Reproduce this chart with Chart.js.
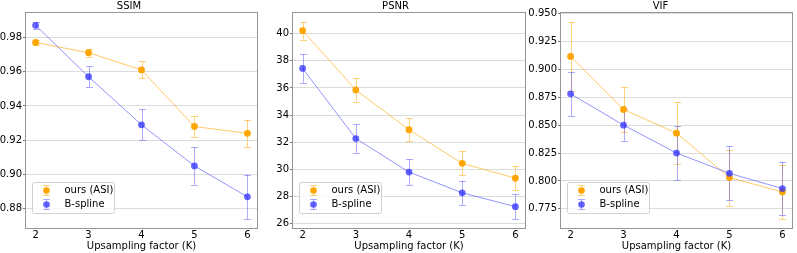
<!DOCTYPE html>
<html><head><meta charset="utf-8">
<script src="https://cdn.jsdelivr.net/npm/chart.js@4/dist/chart.umd.min.js"></script>
<style>
html,body{margin:0;padding:0;background:#fff;}
#wrap{position:relative;width:797px;height:253px;overflow:hidden;background:#fff;}
canvas{position:absolute;top:0;}
</style></head><body>
<div id="wrap">
<canvas id="c1" width="263" height="253" style="left:0px;width:263px;height:253px"></canvas>
<canvas id="c2" width="267" height="253" style="left:263px;width:267px;height:253px"></canvas>
<canvas id="c3" width="272" height="253" style="left:525px;width:272px;height:253px"></canvas>
</div>
<script>
// ---- data ----
const categories = [2, 3, 4, 5, 6];
const seriesLabels = ['ours (ASI)', 'B-spline'];
const xAxisTitle = 'Upsampling factor (K)';
const panelTitles = ['SSIM', 'PSNR', 'VIF'];

const ssimOurs = [0.977, 0.971, 0.961, 0.928, 0.924];
const ssimOursErr = [0.0012, 0.0022, 0.005, 0.006, 0.008];
const ssimBspline = [0.987, 0.957, 0.929, 0.905, 0.887];
const ssimBsplineErr = [0.002, 0.006, 0.009, 0.011, 0.013];

const psnrOurs = [40.22, 35.85, 32.92, 30.44, 29.35];
const psnrOursErr = [0.65, 0.85, 0.85, 0.89, 0.88];
const psnrBspline = [37.44, 32.27, 29.8, 28.27, 27.25];
const psnrBsplineErr = [1.06, 1.06, 0.96, 0.9, 0.92];

const vifOurs = [0.9115, 0.864, 0.8428, 0.803, 0.7902];
const vifOursErr = [0.031, 0.020, 0.028, 0.025, 0.0244];
const vifBspline = [0.878, 0.850, 0.825, 0.8068, 0.7932];
const vifBsplineErr = [0.020, 0.0141, 0.0243, 0.0242, 0.024];

const xTicks = [2, 3, 4, 5, 6];
const ssimTicks = [0.88, 0.90, 0.92, 0.94, 0.96, 0.98];
const psnrTicks = [26, 28, 30, 32, 34, 36, 38, 40];
const vifTicks = [0.775, 0.800, 0.825, 0.850, 0.875, 0.900, 0.925, 0.950];

// ---- styling ----
const FONT = 'DejaVu Sans';
const C = {
  oursLine: 'rgba(255,165,0,0.6)', oursPt: 'rgba(255,165,0,1)', oursErr: 'rgba(255,165,0,0.5)',
  bsLine: 'rgba(60,60,255,0.55)', bsPt: 'rgba(40,40,255,0.72)', bsErr: 'rgba(60,60,255,0.42)'
};

function limits(a, ae, b, be) {
  let lo = Infinity, hi = -Infinity;
  [[a, ae], [b, be]].forEach(([v, e]) => v.forEach((y, i) => {
    lo = Math.min(lo, y - e[i]); hi = Math.max(hi, y + e[i]);
  }));
  const m = (hi - lo) * 0.05;
  return [lo - m, hi + m];
}

const errorBarPlugin = {
  id: 'errbars',
  beforeDatasetsDraw(chart) {
    const ctx = chart.ctx, xs = chart.scales.x, ys = chart.scales.y, a = chart.chartArea;
    ctx.save();
    ctx.beginPath(); ctx.rect(a.left, a.top, a.right - a.left, a.bottom - a.top); ctx.clip();
    chart.data.datasets.forEach(ds => {
      ctx.strokeStyle = ds.errColor; ctx.lineWidth = 1;
      ds.data.forEach((p, i) => {
        const x = Math.round(xs.getPixelForValue(p.x)) + 0.5;
        const y1 = ys.getPixelForValue(p.y - ds.errors[i]);
        const y2 = ys.getPixelForValue(p.y + ds.errors[i]);
        ctx.beginPath();
        ctx.moveTo(x, y1); ctx.lineTo(x, y2);
        const c1 = Math.round(y1) + 0.5, c2 = Math.round(y2) + 0.5;
        ctx.moveTo(x - 3.5, c1); ctx.lineTo(x + 3.5, c1);
        ctx.moveTo(x - 3.5, c2); ctx.lineTo(x + 3.5, c2);
        ctx.stroke();
      });
    });
    ctx.restore();
  },
  afterDraw(chart) {
    const ctx = chart.ctx, a = chart.chartArea;
    ctx.save();
    // frame
    ctx.strokeStyle = '#959595'; ctx.lineWidth = 1;
    ctx.strokeRect(Math.round(a.left) + 0.5, Math.round(a.top) + 0.5,
      Math.round(a.right) - Math.round(a.left) - 1, Math.round(a.bottom) - Math.round(a.top) - 1);
    // legend
    const lx = Math.round(a.left) + 7.5, ly = 182.5, lw = 82, lh = 31;
    ctx.fillStyle = 'rgba(255,255,255,0.8)';
    ctx.strokeStyle = '#d0d0d0';
    ctx.beginPath();
    ctx.roundRect(lx, ly, lw, lh, 2);
    ctx.fill(); ctx.stroke();
    const rows = [190.5, 204.5];
    chart.data.datasets.slice().sort((p, q) => p.legendIndex - q.legendIndex).forEach((ds, k) => {
      const cx = lx + 14, cy = rows[k];
      ctx.strokeStyle = ds.errColor; ctx.lineWidth = 1;
      ctx.beginPath();
      ctx.moveTo(cx, cy - 5); ctx.lineTo(cx, cy + 5);
      ctx.moveTo(cx - 3.5, cy - 5); ctx.lineTo(cx + 3.5, cy - 5);
      ctx.moveTo(cx - 3.5, cy + 5); ctx.lineTo(cx + 3.5, cy + 5);
      ctx.stroke();
      ctx.fillStyle = ds.pointBackgroundColor;
      ctx.beginPath(); ctx.arc(cx, cy, 3.3, 0, Math.PI * 2); ctx.fill();
      ctx.fillStyle = '#000';
      ctx.font = '10px "' + FONT + '"';
      ctx.textBaseline = 'middle'; ctx.textAlign = 'left';
      ctx.fillText(ds.label, lx + 32, cy);
    });
    ctx.restore();
  }
};

function makeChart(id, title, ours, oursErr, bs, bsErr, yTicks, dec, yWidth, padRight) {
  const [ymin, ymax] = limits(ours, oursErr, bs, bsErr);
  const font = { family: FONT, size: 10, lineHeight: 1.2 };
  return new Chart(document.getElementById(id), {
    type: 'scatter',
    data: {
      datasets: [
        {
          label: seriesLabels[0], legendIndex: 0, order: 2,
          data: categories.map((x, i) => ({ x, y: ours[i] })), errors: oursErr,
          showLine: true, borderColor: C.oursLine, borderWidth: 1,
          pointRadius: 3.4, pointBorderWidth: 0, pointBackgroundColor: C.oursPt,
          errColor: C.oursErr
        },
        {
          label: seriesLabels[1], legendIndex: 1, order: 1,
          data: categories.map((x, i) => ({ x, y: bs[i] })), errors: bsErr,
          showLine: true, borderColor: C.bsLine, borderWidth: 1,
          pointRadius: 3.4, pointBorderWidth: 0, pointBackgroundColor: C.bsPt,
          errColor: C.bsErr
        }
      ]
    },
    options: {
      responsive: false, animation: false, devicePixelRatio: 1,
      layout: { padding: { top: 0, right: padRight, bottom: 0, left: 0 } },
      plugins: {
        legend: { display: false }, tooltip: { enabled: false },
        title: { display: true, text: title, color: '#000', font: { family: FONT, size: 10, weight: 'normal', lineHeight: 1.2 }, padding: { top: 0, bottom: 0 } }
      },
      scales: {
        x: {
          type: 'linear', min: 1.8, max: 6.2,
          afterBuildTicks: s => { s.ticks = xTicks.map(v => ({ value: v })); },
          afterFit: s => { s.height = 24; },
          ticks: { color: '#000', font: { family: FONT, size: 10, lineHeight: 1.0 }, padding: 1, maxRotation: 0, autoSkip: false, callback: v => String(v) },
          grid: { drawOnChartArea: false, drawTicks: false, color: '#959595' },
          border: { display: false },
          title: { display: true, text: xAxisTitle, color: '#000', font, padding: { top: 0, bottom: 1 } }
        },
        y: {
          type: 'linear', min: ymin, max: ymax,
          afterBuildTicks: s => { s.ticks = yTicks.map(v => ({ value: v })); },
          afterFit: s => { s.width = yWidth; },
          ticks: { color: '#000', font, padding: 1, autoSkip: false, callback: v => Number(v).toFixed(dec) },
          grid: { color: '#dcdcdc', lineWidth: 1, drawTicks: true, tickLength: 2, tickColor: '#777' },
          border: { display: false }
        }
      }
    },
    plugins: [errorBarPlugin]
  });
}

makeChart('c1', panelTitles[0], ssimOurs, ssimOursErr, ssimBspline, ssimBsplineErr, ssimTicks, 2, 25, 5);
makeChart('c2', panelTitles[1], psnrOurs, psnrOursErr, psnrBspline, psnrBsplineErr, psnrTicks, 0, 29, 2);
makeChart('c3', panelTitles[2], vifOurs, vifOursErr, vifBspline, vifBsplineErr, vifTicks, 3, 35, 1);
</script>
</body></html>
